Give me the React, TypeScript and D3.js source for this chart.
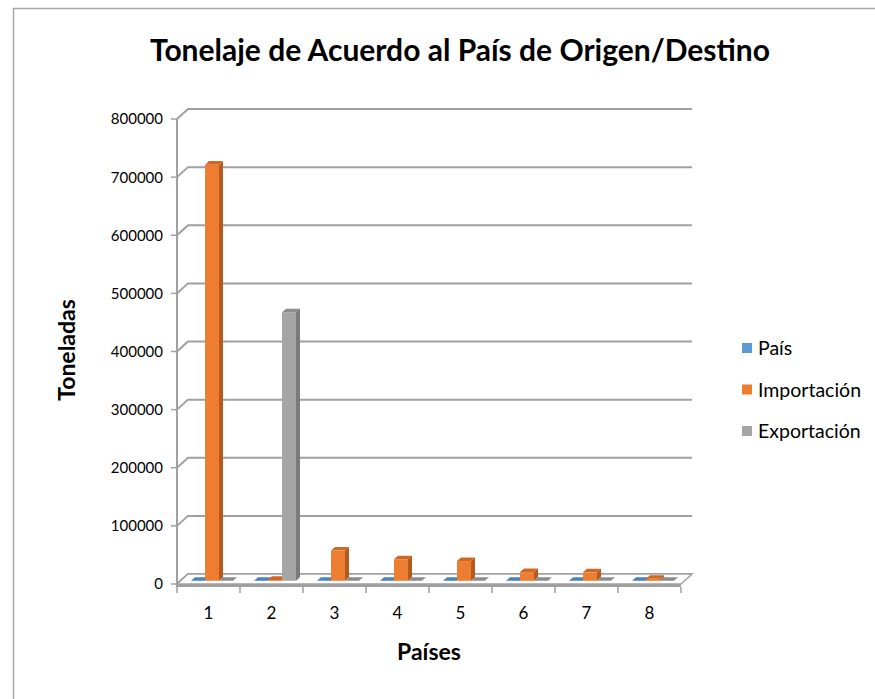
import React from "react";
import * as d3 from "d3";

const categories = ["1", "2", "3", "4", "5", "6", "7", "8"];
const seriesNames = ["País", "Importación", "Exportación"];
const paisValues = [0, 0, 0, 0, 0, 0, 0, 0];
const importacionValues = [716000, 1500, 52000, 37000, 34000, 15000, 14500, 3500];
const exportacionValues = [0, 462000, 0, 0, 0, 0, 0, 0];
const yTicks = [0, 100000, 200000, 300000, 400000, 500000, 600000, 700000, 800000];

const colors = [
  { front: "#5B9BD5", side: "#3F75A8", top: "#4A82BC" },
  { front: "#ED7D31", side: "#B45A1C", top: "#CF6825" },
  { front: "#A5A5A5", side: "#7A7A7A", top: "#8C8C8C" },
];

const W = 875;
const H = 699;
const FONT = "Lato, 'Open Sans', sans-serif";

export default function App() {
  const seriesValues = [paisValues, importacionValues, exportacionValues];
  const x = d3.scaleBand<string>().domain(categories).range([177, 681]).padding(0);
  const y = d3.scaleLinear().domain([0, 800000]).range([584, 119]);
  const bw = x.bandwidth();
  const gap = (bw * 1.5) / 4.5;
  const sx = d3.scaleBand<string>().domain(seriesNames).range([gap / 2, bw - gap / 2]).padding(0);
  const sw = sx.bandwidth();
  const D = { dx: 11, dy: -10 };
  const fr = 0.32, bk = 0.68;
  const f = { dx: D.dx * fr, dy: D.dy * fr };
  const b = { dx: D.dx * (bk - fr), dy: D.dy * (bk - fr) };
  const x0 = x.range()[0];
  const x1 = x.range()[1];
  const grid = "#A0A0A0";

  const bars: React.ReactNode[] = [];
  categories.forEach((c, ci) => {
    seriesNames.forEach((s, si) => {
      const v = seriesValues[si][ci];
      const xl = (x(c) as number) + (sx(s) as number) + f.dx;
      const xr = xl + sw;
      const yb = y(0) + f.dy;
      const yt = y(v) + f.dy;
      const col = colors[si];
      const front = `M${xl},${yb}L${xr},${yb}L${xr},${yt}L${xl},${yt}Z`;
      const side = `M${xr},${yb}L${xr + b.dx},${yb + b.dy}L${xr + b.dx},${yt + b.dy}L${xr},${yt}Z`;
      const top = `M${xl},${yt}L${xr},${yt}L${xr + b.dx},${yt + b.dy}L${xl + b.dx},${yt + b.dy}Z`;
      bars.push(
        <g key={`${ci}-${si}`}>
          {yb - yt > 0.5 && <path d={side} fill={col.side} />}
          {yb - yt > 0.5 && <path d={front} fill={col.front} />}
          <path d={top} fill={col.top} />
        </g>
      );
    });
  });

  return (
    <svg width={W} height={H} style={{ position: "absolute", left: 0, top: 0 }}>
      <rect x={0} y={0} width={W} height={H} fill="#fff" />
      <rect x={13.5} y={8.5} width={W + 20} height={H + 20} fill="none" stroke="#A6A6A6" strokeWidth={1.5} />
      <text x={460} y={61} textAnchor="middle" fontFamily={FONT} fontWeight="bold" fontSize={30} fill="#000">
        Tonelaje de Acuerdo al País de Origen/Destino
      </text>

      {/* gridlines on back wall and left wall */}
      {yTicks.map((t) => (
        <g key={t}>
          <path
            d={`M${x0},${y(t)}L${x0 + D.dx},${y(t) + D.dy}L${x1 + D.dx},${y(t) + D.dy}`}
            fill="none"
            stroke={grid}
            strokeWidth={2}
          />
          <line x1={x0 - 6} x2={x0} y1={y(t)} y2={y(t)} stroke={grid} strokeWidth={1.5} />
          <text x={163} y={y(t)} dy="0.36em" textAnchor="end" fontFamily={FONT} fontSize={15} fill="#000">
            {t}
          </text>
        </g>
      ))}

      {/* floor */}
      <path
        d={`M${x0},${y(0)}L${x1},${y(0)}L${x1 + D.dx},${y(0) + D.dy}L${x0 + D.dx},${y(0) + D.dy}Z`}
        fill="#fff"
        stroke={grid}
        strokeWidth={1.5}
      />
      <line x1={x0} x2={x1} y1={y(0) + 1.5} y2={y(0) + 1.5} stroke={grid} strokeWidth={3} />

      {/* vertical axis */}
      <line x1={x0} x2={x0} y1={y(800000)} y2={y(0) + 3} stroke={grid} strokeWidth={2} />

      {bars}

      {/* category ticks and labels */}
      {categories.map((c) => (
        <g key={c}>
          <line x1={x(c) as number} x2={x(c) as number} y1={y(0) + 3} y2={y(0) + 9} stroke={grid} strokeWidth={1.5} />
          <text
            x={(x(c) as number) + bw / 2}
            y={613}
            dy="0.36em"
            textAnchor="middle"
            fontFamily={FONT}
            fontSize={17}
            fill="#000"
          >
            {c}
          </text>
        </g>
      ))}
      <line x1={x1} x2={x1} y1={y(0) + 3} y2={y(0) + 9} stroke={grid} strokeWidth={1.5} />

      <text x={429} y={652} dy="0.36em" textAnchor="middle" fontFamily={FONT} fontWeight="bold" fontSize={23} fill="#000">
        Países
      </text>
      <text
        transform="translate(67,350) rotate(-90)"
        dy="0.36em"
        textAnchor="middle"
        fontFamily={FONT}
        fontWeight="bold"
        fontSize={23}
        fill="#000"
      >
        Toneladas
      </text>

      {/* legend */}
      {seriesNames.map((s, i) => (
        <g key={s} transform={`translate(742,${348 + i * 41.5})`}>
          <rect x={0} y={-5} width={10} height={10} fill={colors[i].front} />
          <text x={16} y={0} dy="0.36em" fontFamily={FONT} fontSize={19.5} fill="#000">
            {s}
          </text>
        </g>
      ))}
    </svg>
  );
}
